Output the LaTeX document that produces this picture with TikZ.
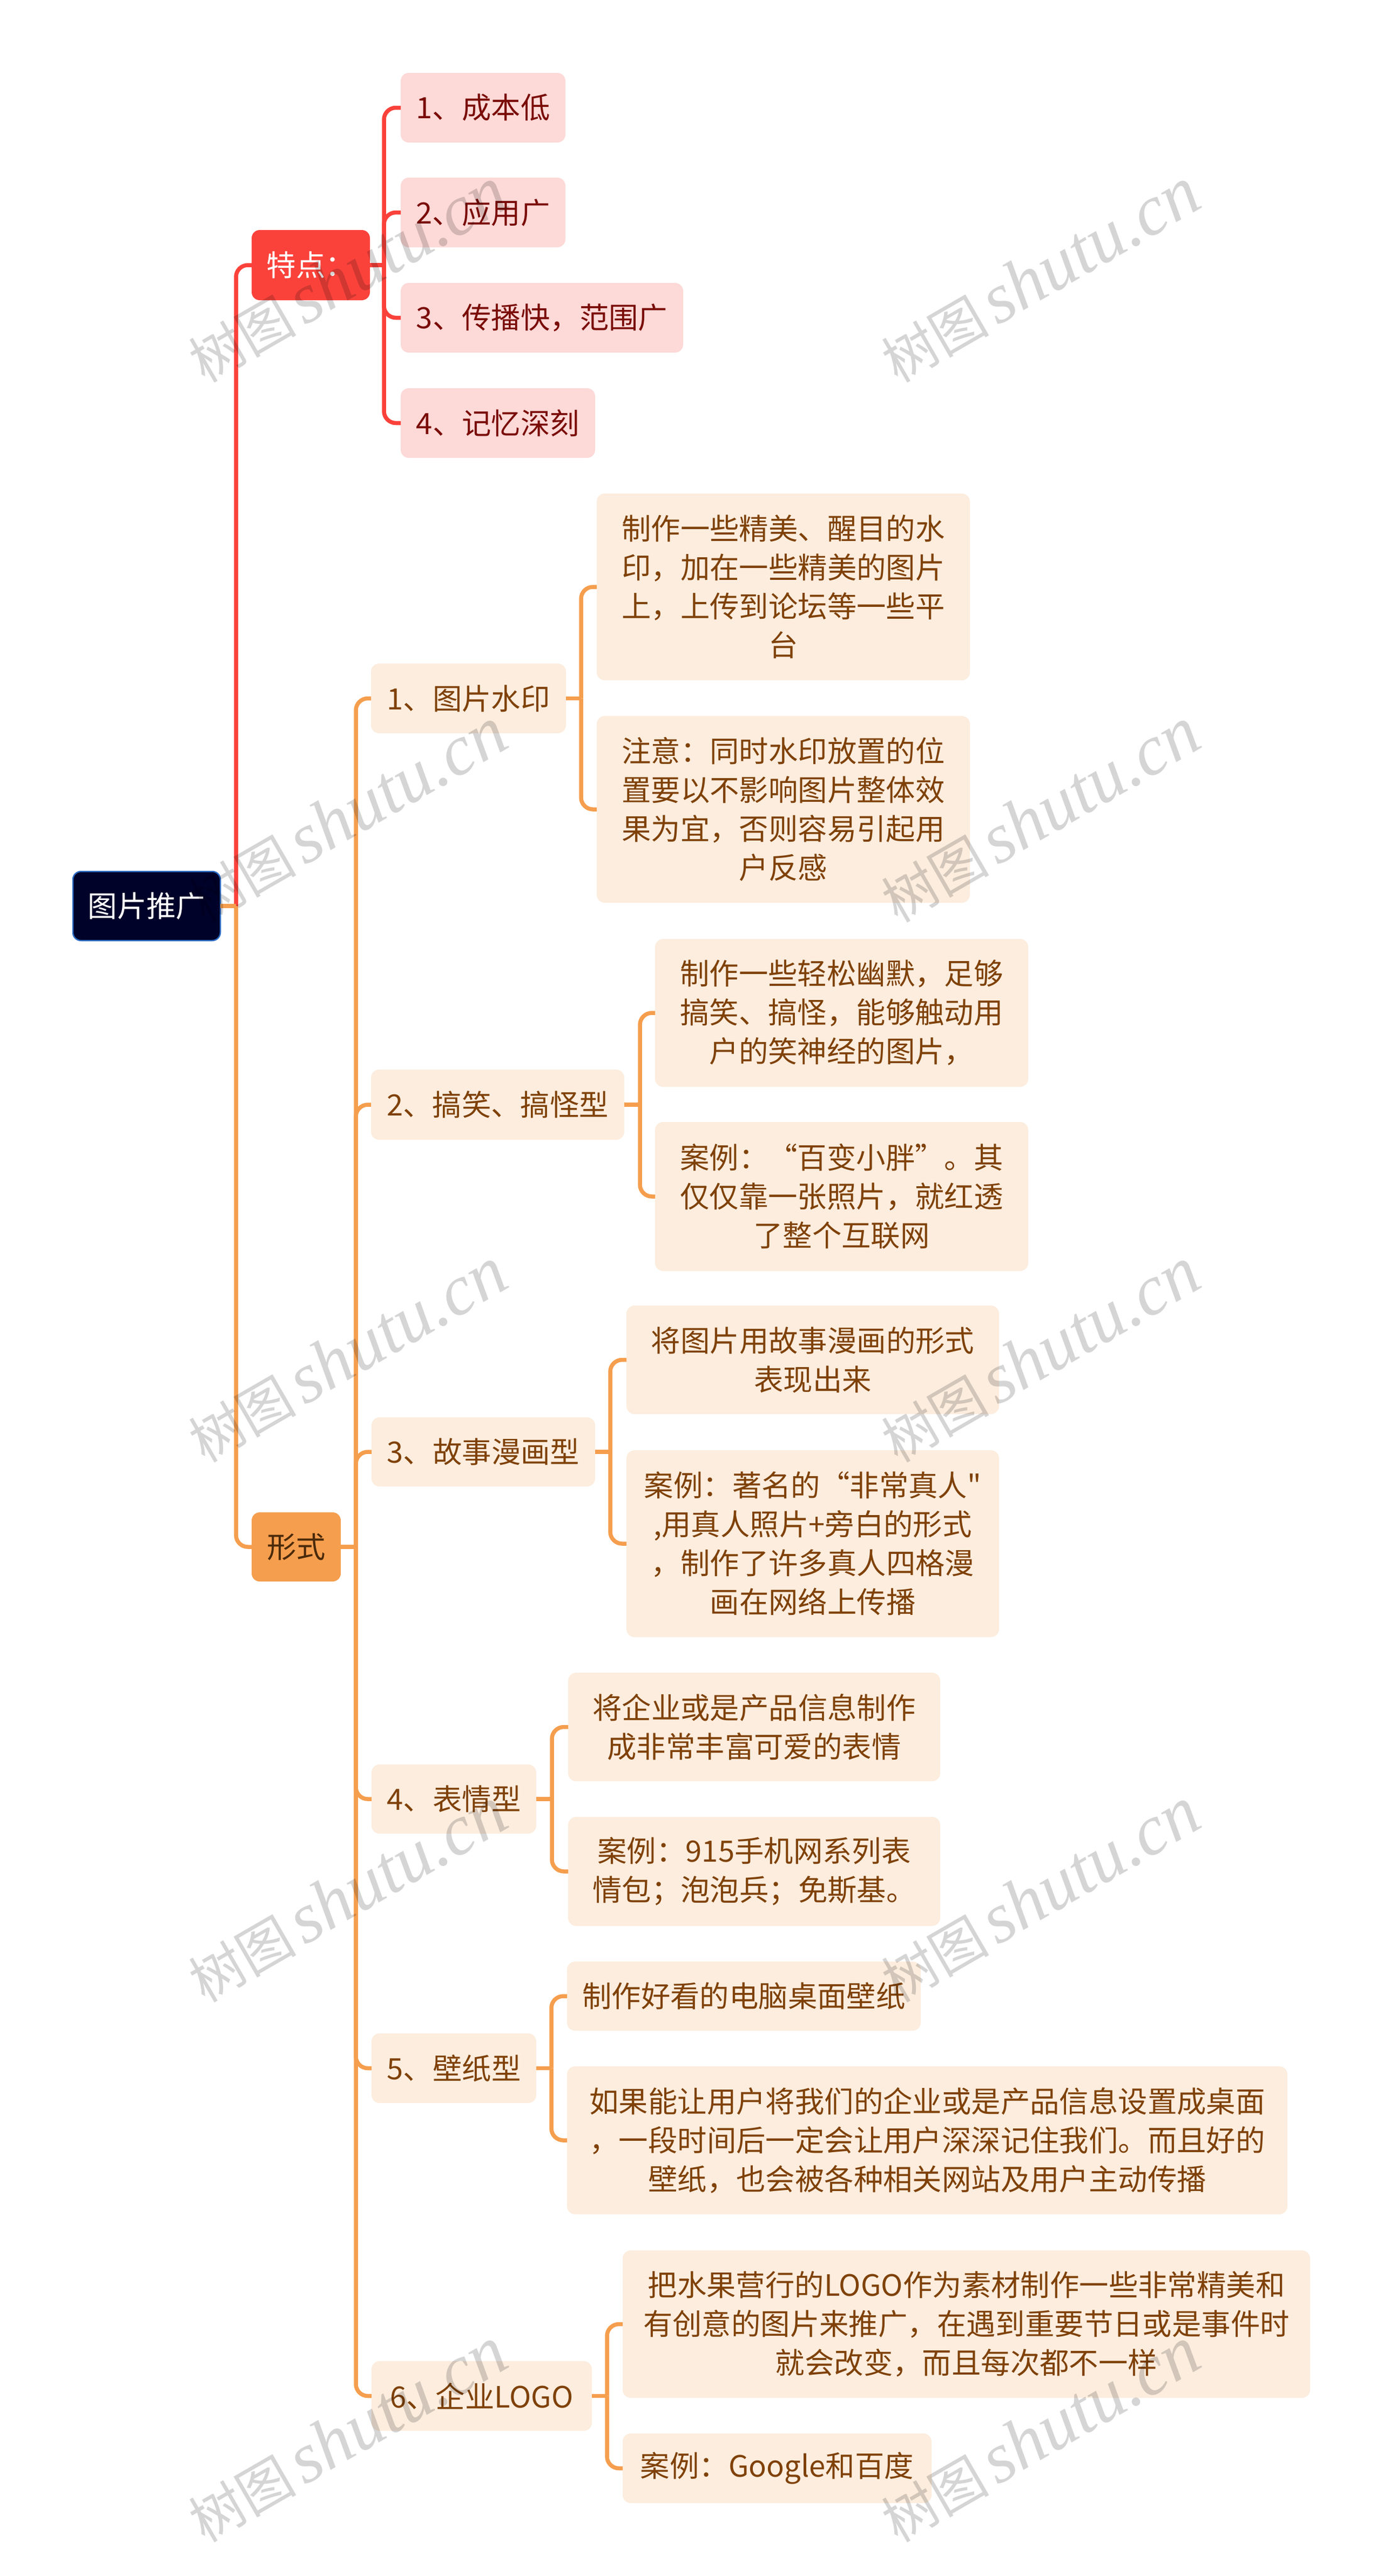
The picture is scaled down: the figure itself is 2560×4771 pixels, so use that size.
\documentclass[tikz,border=0pt]{standalone}
\usepackage{fontspec}
\setmainfont{Noto Sans CJK SC}
\newfontfamily\plaincjk{Noto Sans CJK SC}
\newfontfamily\wmlatin{Liberation Serif}
\definecolor{rootfill}{HTML}{000229}
\definecolor{rootedge}{HTML}{2B6CC4}
\definecolor{redc}{HTML}{FA423B}
\definecolor{orangec}{HTML}{F59E4E}
\definecolor{lightred}{HTML}{FDD9D7}
\definecolor{lightorange}{HTML}{FCEDDE}
\definecolor{redtext}{HTML}{7A0C08}
\definecolor{browntext}{HTML}{7F4108}
\definecolor{maintext}{HTML}{4A2A0A}
\tikzset{
  x=1pt,y=-1pt,
  box/.style={rectangle,rounded corners=15pt,inner sep=0pt,outer sep=0pt,align=center,
    font=\fontsize{54.4}{72}\selectfont},
  rootbox/.style={box,fill=rootfill,draw=rootedge,line width=2.5pt,text=white},
  redbox/.style={box,fill=redc,text=white},
  orangebox/.style={box,fill=orangec,text=maintext},
  redleaf/.style={box,fill=lightred,text=redtext},
  leaf/.style={box,fill=lightorange,text=browntext},
  conn/.style={line width=7.5pt,rounded corners=22pt},
  stem/.style={line width=7.5pt},
  wm/.style={rotate=30,opacity=0.165,text=black,inner sep=0pt,anchor=center,
    font=\fontsize{100}{120}\selectfont}
}
% name, x1, y1, x2, y2, style, text
\newcommand{\bx}[7]{%
  \pgfmathsetmacro{\bxw}{#4-#2}\pgfmathsetmacro{\bxh}{#5-#3}%
  \pgfmathsetmacro{\bxx}{(#2+#4)/2}\pgfmathsetmacro{\bxy}{(#3+#5)/2}%
  \node[#6,minimum width=\bxw pt,minimum height=\bxh pt] (#1) at (\bxx,\bxy) {#7};}
% parent, offset, colour, children
\newcommand{\fan}[4]{%
  \draw[stem,#3] (#1.east) -- ++(#2,0) coordinate (sp#1);
  \foreach \kid in {#4}{\draw[conn,#3] (sp#1) |- (\kid.west);}}
\newcommand{\wmark}[2]{\node[wm] at (#1,#2) {树图\hspace{14pt}{\wmlatin\itshape\fontsize{132}{120}\selectfont shutu.cn}};}
\begin{document}
\begin{tikzpicture}
\useasboundingbox (0,0) rectangle (2560,4771);
\bx{root}{135}{1614}{408}{1742}{rootbox}{图片推广}
\bx{tedian}{466}{426}{685}{556}{redbox}{特点：}
\bx{xingshi}{466}{2801}{631}{2929}{orangebox}{形式}
\bx{ta}{742}{135}{1047}{264}{redleaf}{1、成本低}
\bx{tb}{742}{329}{1047}{458}{redleaf}{2、应用广}
\bx{tc}{742}{524}{1265}{653}{redleaf}{3、传播快，范围广}
\bx{td}{742}{719}{1102}{848}{redleaf}{4、记忆深刻}
\bx{na}{687}{1229}{1048}{1358}{leaf}{1、图片水印}
\bx{naa}{1105}{914}{1796}{1260}{leaf}{制作一些精美、醒目的水\\印，加在一些精美的图片\\上，上传到论坛等一些平\\台}
\bx{nab}{1105}{1326}{1796}{1672}{leaf}{注意：同时水印放置的位\\置要以不影响图片整体效\\果为宜，否则容易引起用\\户反感}
\bx{nb}{687}{1981}{1156}{2111}{leaf}{2、搞笑、搞怪型}
\bx{nba}{1213}{1739}{1904}{2013}{leaf}{制作一些轻松幽默，足够\\搞笑、搞怪，能够触动用\\户的笑神经的图片，}
\bx{nbb}{1213}{2078}{1904}{2354}{leaf}{案例：“百变小胖”。其\\仅仅靠一张照片，就红透\\了整个互联网}
\bx{nc}{688}{2625}{1102}{2753}{leaf}{3、故事漫画型}
\bx{nca}{1160}{2418}{1850}{2619}{leaf}{将图片用故事漫画的形式\\表现出来}
\bx{ncb}{1160}{2686}{1850}{3032}{leaf}{案例：著名的“非常真人{\plaincjk "}\\,用真人照片+旁白的形式\\，制作了许多真人四格漫\\画在网络上传播}
\bx{nd}{688}{3268}{993}{3396}{leaf}{4、表情型}
\bx{nda}{1052}{3098}{1741}{3299}{leaf}{将企业或是产品信息制作\\成非常丰富可爱的表情}
\bx{ndb}{1052}{3365}{1741}{3567}{leaf}{案例：915手机网系列表\\情包；泡泡兵；免斯基。}
\bx{ne}{688}{3766}{993}{3895}{leaf}{5、壁纸型}
\bx{nea}{1050}{3633}{1705}{3761}{leaf}{制作好看的电脑桌面壁纸}
\bx{neb}{1050}{3827}{2384}{4101}{leaf}{如果能让用户将我们的企业或是产品信息设置成桌面\\，一段时间后一定会让用户深深记住我们。而且好的\\壁纸，也会被各种相关网站及用户主动传播}
\bx{nf}{688}{4373}{1096}{4502}{leaf}{6、企业LOGO}
\bx{nfa}{1153}{4168}{2426}{4441}{leaf}{把水果营行的LOGO作为素材制作一些非常精美和\\有创意的图片来推广，在遇到重要节日或是事件时\\就会改变，而且每次都不一样}
\bx{nfb}{1153}{4507}{1725}{4636}{leaf}{案例：Google和百度}
% connectors
\fan{tedian}{26}{redc}{ta,tb,tc,td}
\fan{na}{28}{orangec}{naa,nab}
\fan{nb}{29}{orangec}{nba,nbb}
\fan{nc}{28}{orangec}{nca,ncb}
\fan{nd}{29}{orangec}{nda,ndb}
\fan{ne}{28}{orangec}{nea,neb}
\fan{nf}{28}{orangec}{nfa,nfb}
\fan{xingshi}{28}{orangec}{na,nb,nc,nd,ne,nf}
\draw[conn,redc] (root.east) ++(29,0) coordinate (sproot) |- (tedian.west);
\draw[conn,orangec] (sproot) |- (xingshi.west);
\draw[stem,orangec] (root.east) -- (sproot);
% watermark
\foreach \wy in {510,1510,2510,3510,4510}{
  \wmark{643}{\wy}
  \wmark{1926}{\wy}
}
\end{tikzpicture}
\end{document}
